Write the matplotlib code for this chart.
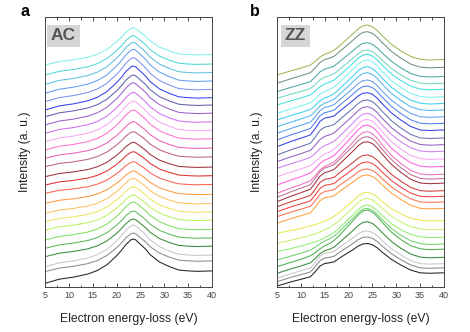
import numpy as np
import matplotlib
matplotlib.use("Agg")
import matplotlib.pyplot as plt

plt.rcParams['font.family'] = ['Liberation Sans', 'DejaVu Sans']

# ---------------- Panel a (AC) ----------------
ac_x = [5, 8, 11, 14, 16, 18, 20, 21, 22, 23, 23.5, 24, 25, 26, 27, 29, 31, 33, 35, 37, 40]
ac_profile = [0, .093, .14, .21, .29, .42, .62, .74, .88, .98, 1, .98, .88, .78, .65, .48, .38, .30, .28, .27, .28]
ac_left = [3.7, 15.3, 20.3, 30.3, 38.7, 47, 57, 65.3, 73.7, 83.7, 93.7, 102, 110.3,
           120.3, 128.7, 137, 145.3, 153.7, 162, 170.3, 177, 185.3, 193.7, 202.7, 212, 222]
ac_peak = [48, 54, 62, 68, 76, 85, 92, 100.3, 108.7, 116, 125.3, 135.3, 144.7,
           155.3, 165.3, 177, 186, 194.7, 204.3, 212, 221, 229.3, 237.7, 244.7, 251.3, 259.3]
ac_colors = ['#222222', '#8c8c8c', '#c8c8c8', '#3a8a3a', '#5cb85c', '#80e060', '#c0f060',
             '#e8e860', '#ffc060', '#ff9a40', '#ff6050', '#e03030', '#a03040', '#c0608a',
             '#f060b0', '#ff70d0', '#f8a8f8', '#d070f0', '#a060d0', '#6060b0', '#3040f0',
             '#8090f0', '#60a0f0', '#60c0e0', '#50d8d8', '#80f0e8']

# ---------------- Panel b (ZZ) ----------------
zz_x = [5, 8, 10, 12, 13, 14, 15, 16, 17, 18, 20, 21, 22, 23, 24, 25, 26, 27, 29, 31, 33, 35, 37, 40]
zz_smooth = [0, .07, .12, .18, .21, .25, .30, .35, .42, .50, .70, .80, .90, .98, 1, .96, .88, .78, .60, .47, .37, .32, .30, .31]
zz_shoulder = [0, .10, .157, .218, .335, .468, .53, .546, .57, .65, .79, .86, .94, .99, 1, .97, .90, .80, .625, .49, .375, .31, .30, .31]
zz_left = [1, 5.3, 8.7, 13.7, 20.3, 27, 35.3, 43.7, 53.7, 63.7, 70.3, 75.3, 80.3, 85.3, 89.7, 93.7,
           102, 110.3, 118.7, 125.3, 132, 140.3, 147, 153.7, 160.3, 167, 173.7, 182, 188.7, 195.3, 203.7, 212]
zz_peak = [43.5, 50, 56, 65.3, 77, 78.7, 82, 88.7, 94.7, 112, 118, 125, 132, 145.3, 150.3, 155.3,
           162, 167.7, 173.7, 180.3, 187, 194.3, 201, 207, 214.3, 220.3, 227, 232.7, 237, 244.3, 255.3, 262]
zz_step = [1, 1, 1, .6, .3, .3, 0, 0, 0, 1, 1, 1, 1, .8, .8, .6,
           .5, .4, .5, .7, .9, 1, .9, .8, .6, .5, .5, .5, .6, .7, .7, .5]
zz_colors = ['#222222', '#8a8a8a', '#c8c8c8', '#3a8a3a', '#4caf50', '#70d070', '#90ee70', '#c8f070',
             '#e8e850', '#ffa040', '#ff7050', '#f04040', '#d03838', '#a03040', '#c07090', '#f070c0',
             '#ff60e0', '#f8a8f8', '#d080f0', '#9060c0', '#6870b0', '#3040e0', '#5080f0', '#60a0f0',
             '#50b8f0', '#40d0f0', '#80f0f0', '#40e0e0', '#70d8c0', '#4aa8a0', '#709080', '#a0b850']

W, H = 470, 332
fig = plt.figure(figsize=(W / 100, H / 100), dpi=100)
axa = fig.add_axes([45 / W, 1 - 287 / H, 167 / W, 270 / H])
axb = fig.add_axes([277 / W, 1 - 287 / H, 167 / W, 270 / H])

prof = np.array(ac_profile)
for l, p, c in zip(ac_left, ac_peak, ac_colors):
    axa.plot(ac_x, l + (p - l) * prof, color=c, lw=0.75)

sm = np.array(zz_smooth)
sh = np.array(zz_shoulder)
for l, p, s, c in zip(zz_left, zz_peak, zz_step, zz_colors):
    axb.plot(zz_x, l + (p - l) * ((1 - s) * sm + s * sh), color=c, lw=0.75)

for ax, lab, letter, lx in [(axa, 'AC', 'a', 25), (axb, 'ZZ', 'b', 255)]:
    ax.set_xlim(5, 40)
    ax.set_ylim(0, 270)
    ax.set_xticks([5, 10, 15, 20, 25, 30, 35, 40])
    ax.set_xticks(np.arange(7.5, 40, 5), minor=True)
    ax.set_yticks([])
    ax.tick_params(axis='x', which='both', direction='in', top=True, bottom=True,
                   labelsize=6.5, colors='#333333', labelcolor='#444444', pad=3, width=0.6)
    ax.tick_params(axis='x', which='major', length=3)
    ax.tick_params(axis='x', which='minor', length=1.8)
    for sp in ax.spines.values():
        sp.set_color('#444444')
        sp.set_linewidth(0.7)
    ax.set_xlabel('Electron energy-loss (eV)', fontsize=8.7, color='#222222')
    ax.xaxis.set_label_coords(0.5, -0.095)
    ax.xaxis.label.set_va('top')
    ax.set_ylabel('Intensity (a. u.)', fontsize=8.7, color='#222222')
    ax.yaxis.set_label_coords(-0.085, 0.5)
    ax.text(0.11, 0.93, lab, transform=ax.transAxes, fontsize=12.5, fontweight='bold',
            color='#555555', ha='center', va='center',
            bbox=dict(facecolor='#d6d6d6', edgecolor='none', boxstyle='square,pad=0.22'))
    fig.text(lx / W, 1 - 12 / H, letter, fontsize=11.5, fontweight='bold', ha='center', va='center')

fig.savefig('out.png', dpi=100)
